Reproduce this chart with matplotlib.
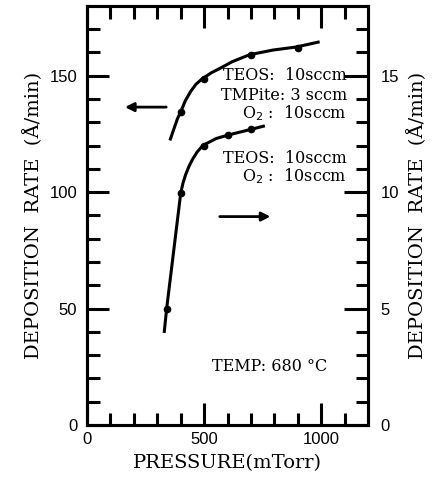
import matplotlib
matplotlib.use("Agg")
import matplotlib.pyplot as plt
import numpy as np

# data
# TEOS + TMPite + O2 (left axis, A/min)
p_tmp = [400, 500, 700, 900]
rate_tmp = [134.5, 148.5, 159, 162]
# hand drawn curve through the points
curve_tmp_x = [356, 386, 400, 420, 443, 465, 490, 530, 565, 620, 694, 794, 893, 987]
curve_tmp_y = [122.8, 131.5, 134.5, 139.3, 143.3, 146.3, 148.5, 151.2, 153.0, 156.0, 159.0, 161.0, 162.3, 164.4]

# TEOS + O2 (right axis, A/min x 10)
p_teos = [340, 400, 500, 600, 700]
rate_teos = [5.0, 9.95, 12.0, 12.45, 12.7]
curve_teos_x = [330, 340, 400, 410, 421, 435, 450, 470, 494, 551, 602, 702, 753]
curve_teos_y = [4.02, 5.0, 9.95, 10.4, 10.75, 11.1, 11.4, 11.72, 12.0, 12.3, 12.45, 12.7, 12.83]

xticks_major = [0, 500, 1000]
yleft_major = [0, 50, 100, 150]
yright_major = [0, 5, 10, 15]

serif = "DejaVu Serif"
sans = "Liberation Sans"
lw = 2.2

fig = plt.figure(figsize=(4.33, 4.83), dpi=100)
ax = fig.add_axes([0.201, 0.120, 0.649, 0.868])
ax2 = ax.twinx()

ax.plot(curve_tmp_x, curve_tmp_y, '-', color='black', lw=lw, solid_joinstyle='round')
ax.plot(p_tmp, rate_tmp, 'o', color='black', ms=4.5)
ax2.plot(curve_teos_x, curve_teos_y, '-', color='black', lw=lw, solid_joinstyle='round')
ax2.plot(p_teos, rate_teos, 'o', color='black', ms=4.5)

ax.set_xlim(0, 1200)
ax.set_ylim(0, 180)
ax2.set_ylim(0, 18)

ax.set_xticks(xticks_major)
ax.set_xticks(np.arange(100, 1200, 100), minor=True)
ax.set_yticks(yleft_major)
ax.set_yticks(np.arange(10, 180, 10), minor=True)
ax2.set_yticks(yright_major)
ax2.set_yticks(np.arange(1, 18, 1), minor=True)

ax.tick_params(which='both', direction='in', width=lw, top=True, labelsize=12)
ax.tick_params(which='major', length=16, pad=5)
ax.tick_params(which='minor', length=9)
ax.tick_params(axis='y', pad=7)
ax2.tick_params(which='both', direction='in', width=lw, labelsize=12)
ax2.tick_params(which='major', length=17, pad=9)
ax2.tick_params(which='minor', length=9)
for lab in ax.get_xticklabels() + ax.get_yticklabels() + ax2.get_yticklabels():
    lab.set_fontfamily(sans)

for a in (ax, ax2):
    for s in a.spines.values():
        s.set_linewidth(lw)

ax.set_xlabel('PRESSURE(mTorr)', family=serif, fontsize=14, labelpad=5)
ax.set_ylabel('DEPOSITION  RATE  (\u00c5/min)', family=serif, fontsize=14, labelpad=5)
ax2.set_ylabel('DEPOSITION  RATE  (\u00c5/min)', family=serif, fontsize=14, rotation=90, labelpad=6)

# gas flow notes
fs = 11.5
ax.text(1110, 150, 'TEOS:  10sccm', family=serif, fontsize=fs, ha='right', va='center')
ax.text(1110, 141.5, 'TMPite: 3 sccm', family=serif, fontsize=fs, ha='right', va='center')
ax.text(1110, 134, 'O$_2$ :  10sccm', family=serif, fontsize=fs, ha='right', va='center')
ax.text(1110, 114.5, 'TEOS:  10sccm', family=serif, fontsize=fs, ha='right', va='center')
ax.text(1110, 107, 'O$_2$ :  10sccm', family=serif, fontsize=fs, ha='right', va='center')
ax.text(535, 25, 'TEMP: 680 \u00b0C', family=serif, fontsize=fs, ha='left', va='center')

# arrows pointing to the axis of each curve
ax.annotate('', xy=(150, 136.5), xytext=(350, 136.5),
            arrowprops=dict(arrowstyle='-|>', color='black', lw=2, mutation_scale=13))
ax.annotate('', xy=(795, 89.5), xytext=(555, 89.5),
            arrowprops=dict(arrowstyle='-|>', color='black', lw=2, mutation_scale=13))

plt.savefig('out.png', dpi=100)
